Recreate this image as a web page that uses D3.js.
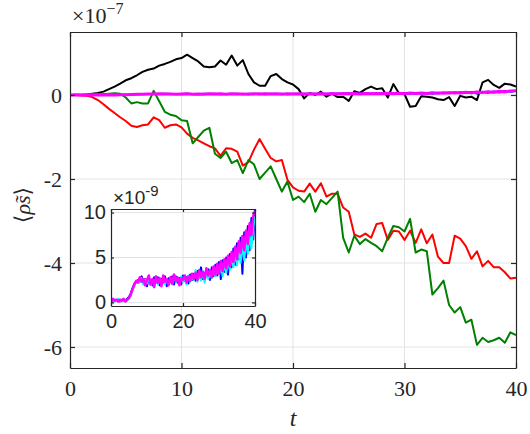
<!DOCTYPE html>
<html>
<head>
<meta charset="utf-8">
<script src="https://cdn.jsdelivr.net/npm/d3@7"></script>
<style>
  body { margin: 0; background: #fff; }
  svg { display: block; }
</style>
</head>
<body>
<svg id="chart" width="530" height="434"></svg>
<script>
// sample times, t = 0 .. 40 every 0.5
const time = d3.range(0, 40.001, 0.5);

// main plot series, units of 1e-7
const blackVals = [0, 0, 0, 0.01, 0.03, 0.05, 0.08, 0.14, 0.2, 0.27,
  0.35, 0.4, 0.47, 0.55, 0.6, 0.63, 0.7, 0.74, 0.79, 0.85,
  0.88, 0.96, 0.88, 0.8, 0.68, 0.66, 0.68, 0.82, 0.72, 0.94,
  0.7, 0.83, 0.5, 0.3, 0.22, 0.22, 0.45, 0.5, 0.38, 0.3,
  0.25, 0.14, -0.08, 0.05, 0.0, 0.08, -0.04, 0.03, -0.05, -0.04,
  -0.14, 0.09, 0.05, 0.14, 0.2, 0.14, 0.16, -0.06, 0.26, 0.04,
  0.02, -0.28, -0.26, -0.03, -0.04, -0.06, -0.1, -0.12, -0.05, -0.26,
  -0.02, -0.06, -0.04, -0.12, 0.3, 0.36, 0.24, 0.17, 0.27, 0.25, 0.2];

const redVals = [0, 0, -0.01, -0.02, -0.05, -0.12, -0.22, -0.33, -0.43, -0.53,
  -0.62, -0.73, -0.76, -0.72, -0.7, -0.53, -0.6, -0.78, -0.72, -0.7,
  -0.77, -0.92, -1.02, -1.08, -1.15, -1.22, -1.27, -1.45, -1.27, -1.28,
  -1.35, -1.68, -1.6, -1.3, -1.05, -1.28, -1.5, -1.58, -1.55, -2.02,
  -2.2, -2.28, -2.3, -2.11, -2.3, -2.1, -2.42, -2.35, -2.35, -2.68,
  -2.78, -3.32, -3.38, -3.3, -3.4, -3.07, -3.05, -3.45, -3.23, -3.25,
  -3.45, -3.23, -3.52, -3.2, -3.53, -3.32, -3.85, -4.0, -4.0, -3.35,
  -3.42, -3.6, -3.9, -3.72, -4.08, -3.95, -4.1, -4.1, -4.22, -4.37, -4.35];

const greenVals = [0, 0, 0, 0, 0.01, 0.01, 0.02, 0.03, 0.04, 0.03,
  -0.06, -0.2, -0.17, -0.2, -0.2, 0.1, -0.15, -0.4, -0.47, -0.5,
  -0.6, -0.62, -1.15, -1.0, -0.85, -0.78, -1.4, -1.5, -1.35, -1.62,
  -1.55, -1.86, -1.55, -1.65, -2.0, -1.85, -1.7, -2.0, -2.3, -2.06,
  -2.5, -2.42, -2.55, -2.35, -2.78, -2.5, -2.6, -2.45, -2.3, -3.4,
  -3.75, -3.35, -3.55, -3.43, -3.52, -3.6, -3.72, -3.4, -3.12, -3.15,
  -3.25, -2.95, -3.75, -3.68, -3.72, -4.75, -4.6, -4.42, -5.0, -5.18,
  -5.05, -5.42, -5.35, -5.95, -5.78, -5.88, -5.84, -5.78, -5.9, -5.65, -5.72];

// small series, units of 1e-9 (shown in the inset, and /100 in the main plot)
const blueVals = [0.2, 0.1, 0.3, 0.2, 0.3, 0.1, 0.3, 0.2, 0.2, 0.4,
  0.6, 1.0, 1.6, 2.1, 2.3, 2.5,
  2.4, 2.9, 2.1, 2.6, 1.8, 2.7, 2.4, 1.9, 2.8, 2.2,
  2.8, 1.9, 2.6, 2.2, 2.9, 1.8, 2.7, 2.3, 2.9, 2.0,
  2.9, 2.2, 2.7, 2.0, 3.0, 2.4, 2.8, 2.1, 3.1, 2.5,
  3.2, 2.4, 3.5, 2.7, 3.9, 2.6, 3.3, 2.9, 3.7, 2.5,
  3.9, 2.9, 4.2, 3.0, 4.5, 2.6, 4.7, 3.4, 5.0, 3.1,
  5.4, 3.9, 6.0, 4.2, 6.6, 4.8, 7.2, 3.2, 7.8, 5.0,
  8.5, 5.8, 9.4, 7.0, 10.4];

const cyanVals = [0.1, 0.3, 0.1, 0.2, 0.4, 0.2, 0.1, 0.3, 0.2, 0.2,
  0.4, 0.8, 1.4, 1.9, 2.2, 2.4,
  2.2, 2.7, 2.0, 2.5, 2.1, 2.8, 1.9, 2.5, 2.2, 2.7,
  2.0, 2.6, 2.1, 2.8, 2.0, 2.5, 2.2, 2.7, 2.0, 2.8,
  2.3, 2.6, 2.1, 2.9, 2.3, 2.7, 2.0, 3.0, 2.3, 2.8,
  2.5, 3.6, 2.3, 3.2, 2.4, 3.5, 2.2, 3.4, 2.6, 3.3,
  2.7, 3.8, 2.9, 4.0, 3.0, 4.2, 2.9, 4.4, 3.3, 4.6,
  3.6, 5.2, 3.9, 5.6, 4.1, 6.0, 4.4, 6.5, 4.7, 6.9,
  5.4, 7.4, 6.0, 8.2, 9.6];

const magentaVals = [0.1, 0.4, 0.2, 0.3, 0.1, 0.3, 0.2, 0.4, 0.1, 0.3,
  0.5, 0.9, 1.5, 2.0, 2.4, 2.2,
  2.8, 2.3, 2.6, 1.9, 2.5, 3.0, 2.0, 2.6, 1.7, 2.9,
  2.2, 2.7, 1.8, 3.0, 2.3, 2.6, 1.9, 2.8, 2.1, 3.1,
  2.4, 2.8, 1.9, 2.7, 2.5, 3.0, 2.2, 2.9, 2.4, 3.2,
  2.6, 3.3, 2.5, 3.6, 2.8, 3.4, 2.6, 3.8, 3.0, 3.6,
  2.8, 4.0, 3.1, 4.3, 3.2, 4.6, 3.5, 4.8, 3.8, 5.2,
  4.0, 5.6, 4.5, 6.2, 4.8, 6.8, 5.5, 7.4, 5.8, 8.0,
  6.5, 8.8, 7.5, 9.6, 10.2];

const mainXTicks = [0, 10, 20, 30, 40];
const mainYTicks = [0, -2, -4, -6];
const insetXTicks = [0, 20, 40];
const insetYTicks = [0, 5, 10];

const svg = d3.select("#chart");
svg.append("rect").attr("width", 530).attr("height", 434).attr("fill", "#fff");

const serif = "'Liberation Serif', 'DejaVu Serif', serif";
const sans = "'Liberation Sans', Arial, sans-serif";
const axisColor = "#262626";
const gridColor = "#e3e3e3";

// ---------- main axes ----------
const x = d3.scaleLinear().domain([0, 40]).range([70, 516]);
const y = d3.scaleLinear().domain([-6.5, 1.5]).range([368, 32]);

const grid = svg.append("g").attr("stroke", gridColor).attr("stroke-width", 1);
grid.selectAll(".gx").data(mainXTicks.slice(1, -1)).enter().append("line")
  .attr("x1", d => x(d)).attr("x2", d => x(d))
  .attr("y1", y.range()[1]).attr("y2", y.range()[0]);
grid.selectAll(".gy").data(mainYTicks).enter().append("line")
  .attr("x1", x.range()[0]).attr("x2", x.range()[1])
  .attr("y1", d => y(d)).attr("y2", d => y(d));

svg.append("defs").append("clipPath").attr("id", "mainClip")
  .append("rect").attr("x", 70).attr("y", 32).attr("width", 446).attr("height", 336);

const line = d3.line().x((d, i) => x(time[i])).y(d => y(d));
const plot = svg.append("g").attr("clip-path", "url(#mainClip)").attr("fill", "none")
  .attr("stroke-linejoin", "round");

plot.append("path").attr("d", line(blackVals)).attr("stroke", "#000").attr("stroke-width", 2);
plot.append("path").attr("d", line(redVals)).attr("stroke", "#ff0000").attr("stroke-width", 2);
plot.append("path").attr("d", line(greenVals)).attr("stroke", "#008000").attr("stroke-width", 2);
plot.append("path").attr("d", line(blueVals.map(v => v / 100))).attr("stroke", "#0000ff").attr("stroke-width", 2);
plot.append("path").attr("d", line(cyanVals.map(v => v / 100))).attr("stroke", "#00ffff").attr("stroke-width", 2);
plot.append("path").attr("d", line(magentaVals.map(v => v / 100))).attr("stroke", "#ff00ff").attr("stroke-width", 3);

// axes, ticks pointing inward
function styleAxis(g) {
  g.select(".domain").attr("stroke", axisColor).attr("stroke-width", 1.2);
  g.selectAll(".tick line").attr("stroke", axisColor).attr("stroke-width", 1.2);
  g.selectAll(".tick text").attr("fill", "#262626");
}
svg.append("g").attr("transform", "translate(0,368)")
  .call(d3.axisBottom(x).tickValues(mainXTicks).tickSize(-5).tickSizeOuter(0).tickPadding(12))
  .call(styleAxis)
  .call(g => g.selectAll("text").attr("font-family", serif).attr("font-size", 22));
svg.append("g").attr("transform", "translate(70,0)")
  .call(d3.axisLeft(y).tickValues(mainYTicks).tickSize(-5).tickSizeOuter(0).tickPadding(8)
    .tickFormat(d => d === 0 ? "0" : String(d)))
  .call(styleAxis)
  .call(g => g.selectAll("text").attr("font-family", serif).attr("font-size", 22));
svg.append("g").attr("transform", "translate(0,32)")
  .call(d3.axisTop(x).tickValues(mainXTicks).tickSize(-5).tickSizeOuter(0).tickFormat(""))
  .call(styleAxis);
svg.append("g").attr("transform", "translate(516,0)")
  .call(d3.axisRight(y).tickValues(mainYTicks).tickSize(-5).tickSizeOuter(0).tickFormat(""))
  .call(styleAxis);

// exponent label
const exp7 = svg.append("text").attr("x", 72).attr("y", 23)
  .attr("font-family", serif).attr("font-size", 22).attr("fill", "#262626");
exp7.append("tspan").text("×10");
exp7.append("tspan").attr("dy", -9).attr("font-size", 16).text("−7");

// axis titles
svg.append("text").attr("x", 293).attr("y", 426).attr("text-anchor", "middle")
  .attr("font-family", serif).attr("font-style", "italic").attr("font-size", 24)
  .attr("fill", "#262626").text("t");

const yl = svg.append("text").attr("transform", "translate(30,205) rotate(-90)")
  .attr("text-anchor", "middle").attr("font-family", serif).attr("font-size", 22)
  .attr("fill", "#262626");
yl.append("tspan").text("⟨");
yl.append("tspan").attr("font-style", "italic").text("ρ\u0303s");
yl.append("tspan").text("⟩");

// ---------- inset ----------
const xi = d3.scaleLinear().domain([0, 40]).range([111, 255]);
const yi = d3.scaleLinear().domain([-0.4, 10.4]).range([306, 209]);

svg.append("rect").attr("x", 111).attr("y", 209).attr("width", 144).attr("height", 97)
  .attr("fill", "#fff");

const igrid = svg.append("g").attr("stroke", gridColor).attr("stroke-width", 1);
igrid.selectAll(".gx").data(insetXTicks.slice(1, -1)).enter().append("line")
  .attr("x1", d => xi(d)).attr("x2", d => xi(d))
  .attr("y1", 209).attr("y2", 306);
igrid.selectAll(".gy").data(insetYTicks).enter().append("line")
  .attr("x1", 111).attr("x2", 255)
  .attr("y1", d => yi(d)).attr("y2", d => yi(d));

svg.select("defs").append("clipPath").attr("id", "insetClip")
  .append("rect").attr("x", 111).attr("y", 209).attr("width", 144).attr("height", 97);

const iline = d3.line().x((d, i) => xi(time[i])).y(d => yi(d));
const iplot = svg.append("g").attr("clip-path", "url(#insetClip)").attr("fill", "none")
  .attr("stroke-linejoin", "round");
iplot.append("path").attr("d", iline(blueVals)).attr("stroke", "#0000ff").attr("stroke-width", 2);
iplot.append("path").attr("d", iline(cyanVals)).attr("stroke", "#00ffff").attr("stroke-width", 2);
iplot.append("path").attr("d", iline(magentaVals)).attr("stroke", "#ff00ff").attr("stroke-width", 2.5);

svg.append("g").attr("transform", "translate(0,306)")
  .call(d3.axisBottom(xi).tickValues(insetXTicks).tickSize(-3).tickSizeOuter(0).tickPadding(8))
  .call(styleAxis)
  .call(g => g.selectAll("text").attr("font-family", sans).attr("font-size", 20));
svg.append("g").attr("transform", "translate(111,0)")
  .call(d3.axisLeft(yi).tickValues(insetYTicks).tickSize(-3).tickSizeOuter(0).tickPadding(5))
  .call(styleAxis)
  .call(g => g.selectAll("text").attr("font-family", sans).attr("font-size", 20));
svg.append("g").attr("transform", "translate(0,209)")
  .call(d3.axisTop(xi).tickValues(insetXTicks).tickSize(-3).tickSizeOuter(0).tickFormat(""))
  .call(styleAxis);
svg.append("g").attr("transform", "translate(255,0)")
  .call(d3.axisRight(yi).tickValues(insetYTicks).tickSize(-3).tickSizeOuter(0).tickFormat(""))
  .call(styleAxis);

const exp9 = svg.append("text").attr("x", 113).attr("y", 204)
  .attr("font-family", sans).attr("font-size", 19).attr("fill", "#262626");
exp9.append("tspan").text("×10");
exp9.append("tspan").attr("dy", -8).attr("font-size", 15).text("-9");
</script>
</body>
</html>
